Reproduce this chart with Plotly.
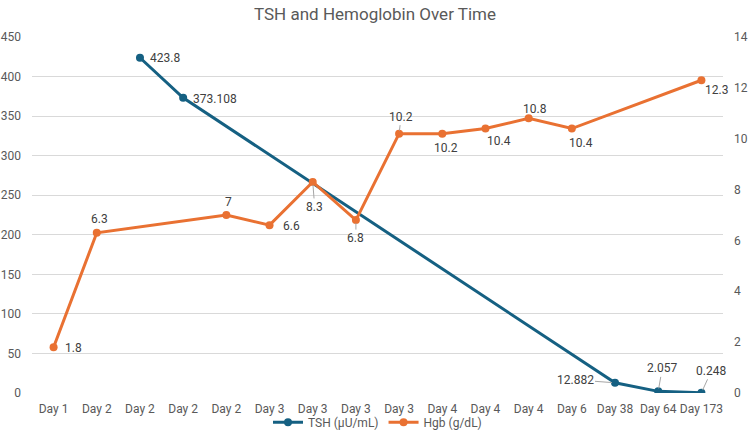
import plotly.graph_objects as go

categories = ["Day 1", "Day 2", "Day 2", "Day 2", "Day 2", "Day 3", "Day 3", "Day 3",
              "Day 3", "Day 4", "Day 4", "Day 4", "Day 6", "Day 38", "Day 64", "Day 173"]
tsh = [None, None, 423.8, 373.108, None, None, None, None,
       None, None, None, None, None, 12.882, 2.057, 0.248]
hgb = [1.8, 6.3, None, None, 7, 6.6, 8.3, 6.8,
       10.2, 10.2, 10.4, 10.8, 10.4, None, None, 12.3]
tsh_name = "TSH (µU/mL)"
hgb_name = "Hgb (g/dL)"
left_ticks = list(range(0, 451, 50))
right_ticks = list(range(0, 15, 2))

BLUE = "#156082"
ORANGE = "#E97132"
FONT = "Roboto, Liberation Sans, sans-serif"
TXT = "#595959"
LBL = "#404040"

x = list(range(len(categories)))

fig = go.Figure()
fig.add_trace(go.Scatter(x=x, y=tsh, name=tsh_name, mode="lines+markers",
                         connectgaps=True, line=dict(color=BLUE, width=3),
                         marker=dict(color=BLUE, size=8), yaxis="y"))
fig.add_trace(go.Scatter(x=x, y=hgb, name=hgb_name, mode="lines+markers",
                         connectgaps=True, line=dict(color=ORANGE, width=3),
                         marker=dict(color=ORANGE, size=8), yaxis="y2"))

def fmt(v):
    return ("%g" % v) if v != int(v) else str(int(v))

tsh_place = {
    2: dict(mode="shift", dx=8, dy=0, xa="left"),
    3: dict(mode="shift", dx=8, dy=-1, xa="left"),
    13: dict(mode="arrow", ax=-40, ay=-3),
    14: dict(mode="arrow", ax=4, ay=-23),
    15: dict(mode="arrow", ax=10, ay=-22),
}
hgb_place = {
    0: dict(mode="shift", dx=9, dy=-1, xa="left"),
    1: dict(mode="shift", dx=3, dy=14, xa="center"),
    4: dict(mode="shift", dx=2, dy=13, xa="center"),
    5: dict(mode="shift", dx=11, dy=-1, xa="left"),
    6: dict(mode="arrow", ax=2, ay=25),
    7: dict(mode="arrow", ax=0, ay=18),
    8: dict(mode="arrow", ax=2, ay=-17),
    9: dict(mode="shift", dx=4, dy=-14, xa="center"),
    10: dict(mode="shift", dx=14, dy=-12, xa="center"),
    11: dict(mode="shift", dx=6, dy=9, xa="center"),
    12: dict(mode="shift", dx=9, dy=-14, xa="center"),
    15: dict(mode="shift", dx=15, dy=-10, xa="center"),
}

annotations = []
for series, yref, place in ((tsh, "y", tsh_place), (hgb, "y2", hgb_place)):
    for i, v in enumerate(series):
        if v is None:
            continue
        p = place[i]
        a = dict(x=i, y=v, xref="x", yref=yref, text=fmt(v),
                 font=dict(family=FONT, size=12, color=LBL))
        if p["mode"] == "shift":
            a.update(showarrow=False, xshift=p["dx"], yshift=p["dy"],
                     xanchor=p["xa"], yanchor="middle")
        else:
            a.update(showarrow=True, ax=p["ax"], ay=p["ay"], arrowhead=0,
                     arrowwidth=1, arrowcolor="#A6A6A6", standoff=3)
        annotations.append(a)

fig.update_layout(
    width=750, height=443,
    margin=dict(l=32, r=27, t=37, b=50, autoexpand=False),
    paper_bgcolor="white", plot_bgcolor="white",
    font=dict(family=FONT, size=12, color=TXT),
    title=dict(text="TSH and Hemoglobin Over Time", x=0.5, xanchor="center",
               y=1 - 14 / 443, yanchor="middle", yref="container",
               font=dict(family=FONT, size=17, color=TXT)),
    xaxis=dict(range=[-0.5, len(categories) - 0.5], tickmode="array",
               tickvals=x, ticktext=categories, showgrid=False, zeroline=False,
               showline=False, ticks="", ticklabelstandoff=7, tickangle=0,
               automargin=False, tickfont=dict(size=12, color=TXT)),
    yaxis=dict(range=[0, 450], tickmode="array", tickvals=left_ticks,
               showgrid=True, gridcolor="#D9D9D9", gridwidth=1, zeroline=False,
               showline=False, ticks="", ticklabelstandoff=10, automargin=False,
               tickfont=dict(size=12, color=TXT)),
    yaxis2=dict(range=[0, 14], tickmode="array", tickvals=right_ticks,
                overlaying="y", side="right", showgrid=False, zeroline=False,
                showline=False, ticks="", ticklabelstandoff=10, automargin=False,
                tickfont=dict(size=12, color=TXT)),
    legend=dict(orientation="h", x=0.5, xanchor="center", y=-0.082,
                yanchor="middle", font=dict(size=12, color=TXT),
                bgcolor="rgba(0,0,0,0)"),
    annotations=annotations,
)

fig.write_html("out.html")
